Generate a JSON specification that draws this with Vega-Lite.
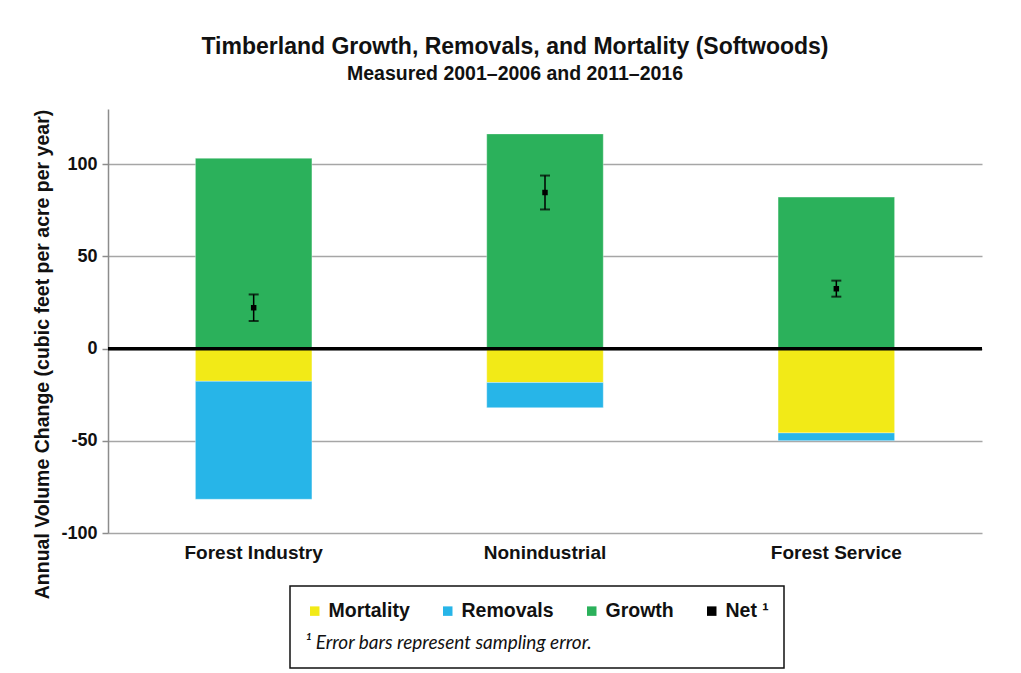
{
  "$schema": "https://vega.github.io/schema/vega-lite/v6.json",
  "autosize": {"type": "none"},
  "width": 874,
  "height": 424,
  "padding": {"left": 108, "top": 109, "right": 39, "bottom": 140},
  "background": "white",
  "title": {
    "text": "Timberland Growth, Removals, and Mortality (Softwoods)",
    "subtitle": "Measured 2001\u20132006 and 2011\u20132016",
    "anchor": "middle",
    "dx": -30,
    "offset": 26,
    "font": "Liberation Sans",
    "fontSize": 23,
    "fontWeight": "bold",
    "color": "#111111",
    "subtitleFont": "Liberation Sans",
    "subtitleFontSize": 19.5,
    "subtitleFontWeight": "bold",
    "subtitleColor": "#111111",
    "subtitlePadding": 6
  },
  "datasets": {
    "bars": [
      {"owner": "Forest Industry", "component": "Growth", "ord": 3, "value": 103.3},
      {"owner": "Forest Industry", "component": "Mortality", "ord": 1, "value": -17.7},
      {"owner": "Forest Industry", "component": "Removals", "ord": 2, "value": -64.0},
      {"owner": "Nonindustrial", "component": "Growth", "ord": 3, "value": 116.5},
      {"owner": "Nonindustrial", "component": "Mortality", "ord": 1, "value": -18.4},
      {"owner": "Nonindustrial", "component": "Removals", "ord": 2, "value": -13.6},
      {"owner": "Forest Service", "component": "Growth", "ord": 3, "value": 82.2},
      {"owner": "Forest Service", "component": "Mortality", "ord": 1, "value": -45.7},
      {"owner": "Forest Service", "component": "Removals", "ord": 2, "value": -4.2}
    ],
    "net": [
      {"owner": "Forest Industry", "component": "Net \u00b9", "net": 22.2, "lo": 15.0, "hi": 29.4},
      {"owner": "Nonindustrial", "component": "Net \u00b9", "net": 84.7, "lo": 75.5, "hi": 93.9},
      {"owner": "Forest Service", "component": "Net \u00b9", "net": 32.5, "lo": 28.2, "hi": 36.9}
    ],
    "zero": [{"level": 0}]
  },
  "config": {
    "view": {"stroke": null},
    "font": "Liberation Sans",
    "legend": {"strokeWidth": 1.5}
  },
  "layer": [
    {
      "data": {"name": "bars"},
      "mark": {"type": "bar", "stroke": "#ffffff", "strokeOpacity": 0.35, "strokeWidth": 1},
      "encoding": {
        "x": {
          "field": "owner",
          "type": "nominal",
          "sort": ["Forest Industry", "Nonindustrial", "Forest Service"],
          "scale": {"paddingInner": 0.6, "paddingOuter": 0.3},
          "axis": {
            "title": null,
            "labelAngle": 0,
            "domain": false,
            "ticks": false,
            "labelFont": "Liberation Sans",
            "labelFontSize": 19,
            "labelFontWeight": "bold",
            "labelColor": "#111111",
            "labelPadding": 10
          }
        },
        "y": {
          "field": "value",
          "type": "quantitative",
          "stack": "zero",
          "scale": {"domain": [-100, 130], "nice": false, "zero": false},
          "axis": {
            "title": "Annual Volume Change (cubic feet per acre per year)",
            "titleFont": "Liberation Sans",
            "titleFontSize": 19.5,
            "titleFontWeight": "bold",
            "titleColor": "#111111",
            "titlePadding": 8,
            "titleY": 245,
            "values": [-100, -50, 0, 50, 100],
            "labelExpr": "'' + datum.value",
            "labelFont": "Liberation Sans",
            "labelFontSize": 18,
            "labelFontWeight": "bold",
            "labelColor": "#111111",
            "labelPadding": 5,
            "tickSize": 6,
            "tickColor": "#8c8c8c",
            "tickWidth": 1.5,
            "domainColor": "#8c8c8c",
            "domainWidth": 1.5,
            "gridColor": "#a6a6a6",
            "gridWidth": 1.5
          }
        },
        "color": {
          "field": "component",
          "type": "nominal",
          "scale": {
            "domain": ["Mortality", "Removals", "Growth", "Net \u00b9"],
            "range": ["#f2ea17", "#27b5e8", "#2bb15b", "#000000"]
          },
          "legend": {
            "title": "\u00b9 Error bars represent sampling error.",
            "titleOrient": "bottom",
            "titleFont": "Lato",
            "titleFontSize": 19,
            "titleFontStyle": "italic",
            "titleFontWeight": "normal",
            "titleColor": "#111111",
            "titlePadding": 13,
            "titleLimit": 0,
            "orient": "none",
            "legendX": 182,
            "legendY": 477,
            "direction": "horizontal",
            "columns": 4,
            "columnPadding": 28,
            "symbolType": "square",
            "symbolSize": 90,
            "symbolStrokeWidth": 0,
            "labelFont": "Liberation Sans",
            "labelFontSize": 19.5,
            "labelFontWeight": "bold",
            "labelColor": "#111111",
            "labelOffset": 4,
            "labelLimit": 0,
            "strokeColor": "#111111",
            "fillColor": "white",
            "padding": 15,
            "encode": {
              "symbols": {
                "update": {
                  "size": {"signal": "datum.value === 'Net \u00b9' ? 30 : 90"}
                }
              }
            }
          }
        },
        "order": {"field": "ord", "type": "quantitative"}
      }
    },
    {
      "data": {"name": "zero"},
      "mark": {"type": "rule", "color": "#000000", "strokeWidth": 3.5},
      "encoding": {"y": {"field": "level", "type": "quantitative"}}
    },
    {
      "data": {"name": "net"},
      "mark": {"type": "rule", "color": "#000000", "strokeWidth": 1.5},
      "encoding": {
        "x": {"field": "owner", "type": "nominal", "sort": ["Forest Industry", "Nonindustrial", "Forest Service"]},
        "y": {"field": "lo", "type": "quantitative"},
        "y2": {"field": "hi"}
      }
    },
    {
      "data": {"name": "net"},
      "mark": {"type": "tick", "color": "#000000", "thickness": 2, "size": 10},
      "encoding": {
        "x": {"field": "owner", "type": "nominal", "sort": ["Forest Industry", "Nonindustrial", "Forest Service"]},
        "y": {"field": "lo", "type": "quantitative"}
      }
    },
    {
      "data": {"name": "net"},
      "mark": {"type": "tick", "color": "#000000", "thickness": 2, "size": 10},
      "encoding": {
        "x": {"field": "owner", "type": "nominal", "sort": ["Forest Industry", "Nonindustrial", "Forest Service"]},
        "y": {"field": "hi", "type": "quantitative"}
      }
    },
    {
      "data": {"name": "net"},
      "mark": {"type": "point", "shape": "square", "filled": true, "size": 30, "opacity": 1},
      "encoding": {
        "x": {"field": "owner", "type": "nominal", "sort": ["Forest Industry", "Nonindustrial", "Forest Service"]},
        "y": {"field": "net", "type": "quantitative"},
        "color": {"field": "component", "type": "nominal"}
      }
    }
  ]
}
